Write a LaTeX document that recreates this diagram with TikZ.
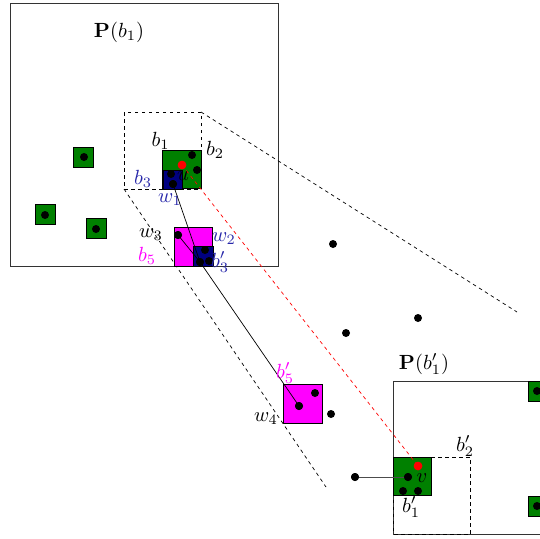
\documentclass[tikz,border=0pt]{standalone}
\usepackage{amsmath}
\definecolor{boxgreen}{RGB}{0,128,0}
\definecolor{boxnavy}{RGB}{0,0,128}
\definecolor{boxmag}{RGB}{255,0,255}
\definecolor{txtblue}{RGB}{40,40,170}
\tikzset{
  lab/.style={inner sep=0pt, scale=2.05},
  dot/.style={circle, fill=black, inner sep=0pt, minimum size=8pt},
  reddot/.style={circle, fill=red, inner sep=0pt, minimum size=8.5pt},
  gbox/.style={draw=black, fill=boxgreen, line width=0.8pt, inner sep=0pt, minimum size=#1},
  nbox/.style={draw=black, fill=boxnavy, line width=0.8pt, inner sep=0pt, minimum size=#1},
  mbox/.style={draw=black, fill=boxmag, line width=0.8pt, inner sep=0pt, minimum size=#1},
  frame/.style={draw=black!80, line width=0.9pt},
  dsq/.style={draw=black, line width=0.7pt, dash pattern=on 3.5pt off 3.5pt},
  link/.style={draw=black, line width=0.7pt},
  redlink/.style={draw=red, line width=0.7pt, dash pattern=on 3.5pt off 3.5pt}
}
\begin{document}
\begin{tikzpicture}[x=1pt,y=-1pt]
\useasboundingbox (0,0) rectangle (540,538);
\clip (0,0) rectangle (540,538);

% frames
\draw[frame] (10,3) rectangle (278,266);
\draw[frame] (393.5,381) rectangle (560,534);

% dashed squares and projection lines
\draw[dsq] (124,112) rectangle (201,189);
\coordinate (sqTR) at (201,112);
\coordinate (sqBL) at (124,189);
\coordinate (endA) at (517,312);
\coordinate (endB) at (326,487);
\draw[dsq] (sqTR) -- (endA);
\draw[dsq] (sqBL) -- (endB);
\draw[dsq] (393.5,457.5) rectangle (470.5,534);

% boxes
\node[gbox=20pt] (G1) at (83.5,157) {};
\node[gbox=20pt] (G2) at (45,214) {};
\node[gbox=20pt] (G3) at (96,228) {};
\node[gbox=38.5pt] (B1) at (182,169.5) {};
\node[nbox=19pt] (B3) at (172.5,179.5) {};
\node[mbox=38.5pt] (B5) at (193.5,247) {};
\node[nbox=19.5pt] (B3p) at (203.5,256.5) {};
\node[mbox=38.5pt] (B5p) at (303,404) {};
\node[gbox=38.5pt] (B1p) at (412.5,476.5) {};
\node[gbox=20pt] (G4) at (538,391) {};
\node[gbox=20pt] (G5) at (538,506) {};

% dots
\node[dot] (g1d) at (84,157) {};
\node[dot] (g2d) at (45,215) {};
\node[dot] (g3d) at (96,229) {};
\node[dot] (d1) at (192,155) {};
\node[dot] (d2) at (197,170) {};
\node[dot] (d3) at (171,174) {};
\node[dot] (w1) at (173,184) {};
\node[dot] (w3) at (178,235) {};
\node[dot] (w2) at (205,250) {};
\node[dot] (p) at (200,262) {};
\node[dot] (d4) at (209,261) {};
\node[dot] (w4) at (299,406) {};
\node[dot] (d5) at (315,393) {};
\node[dot] (m1) at (333,244) {};
\node[dot] (m2) at (418,318) {};
\node[dot] (m3) at (346,333) {};
\node[dot] (m4) at (331,414) {};
\node[dot] (m5) at (355,477) {};
\node[dot] (x1) at (408,477) {};
\node[dot] (x2) at (403,491) {};
\node[dot] (x3) at (418,491) {};
\node[dot] (g4d) at (537,391) {};
\node[dot] (g5d) at (537,506) {};
\node[reddot] (u) at (182,165) {};
\node[reddot] (v) at (418,466) {};

% connectors
\draw[redlink] (u.center) -- (v.center);
\draw[link] (w1.center) -- (p.center);
\draw[link] (w3.center) -- (p.center);
\draw[link] (p.center) -- (w4.center);
\draw[link, draw=black!70] (m5.center) -- (x1.center);
\node[dot] at (w1) {};
\node[dot] at (p) {};
\node[dot] at (w3) {};
\node[dot] at (w4) {};
\node[dot] at (m5) {};
\node[dot] at (x1) {};
\node[reddot] at (u) {};
\node[reddot] at (v) {};

% labels
\node[lab] (lP1) at (119,32) {$\mathbf{P}(b_1)$};
\node[lab] (lb1) at (160.5,141) {$b_1$};
\node[lab] (lb2) at (215,150) {$b_2$};
\node[lab, text=txtblue] (lb3) at (143,179) {$b_3$};
\node[lab] (lu) at (183,176) {$u$};
\node[lab, text=txtblue] (lw1) at (170,200) {$w_1$};
\node[lab] (lw3) at (151,235) {$w_3$};
\node[lab, text=boxmag] (lb5) at (147,256) {$b_5$};
\node[lab, text=txtblue] (lw2) at (224,238.5) {$w_2$};
\node[lab, text=txtblue] (lb3p) at (220,262) {$b_3'$};
\node[lab, text=boxmag] (lb5p) at (285,373) {$b_5'$};
\node[lab] (lw4) at (266,419) {$w_4$};
\node[lab] (lP1p) at (424,364) {$\mathbf{P}(b_1')$};
\node[lab] (lb2p) at (465,446) {$b_2'$};
\node[lab] (lb1p) at (411,507) {$b_1'$};
\node[lab] (lv) at (422,478) {$v$};
\end{tikzpicture}
\end{document}
